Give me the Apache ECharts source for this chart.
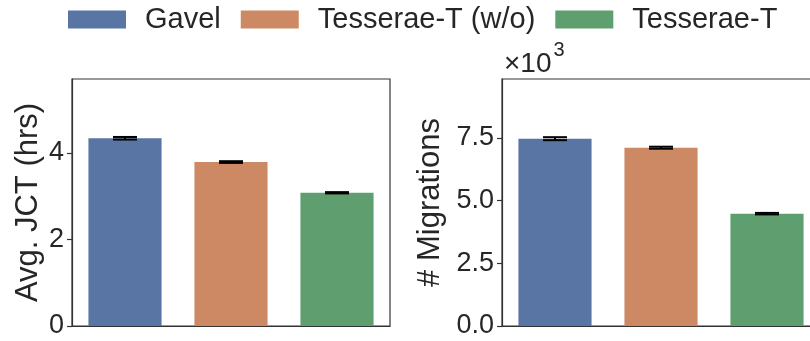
<!DOCTYPE html>
<html>
<head>
<meta charset="utf-8">
<script src="https://cdn.jsdelivr.net/npm/echarts@6/dist/echarts.min.js"></script>
<style>
  html, body { margin: 0; padding: 0; background: #fff; overflow: hidden; }
  /* the right panel runs past the edge of the figure, so the canvas is wider than the window */
  #chart { width: 830px; height: 341px; }
</style>
</head>
<body>
<div id="chart"></div>
<script>
// data
const categories = ['Gavel', 'Tesserae-T (w/o)', 'Tesserae-T']
const colors = ['#5975a4', '#cc8963', '#5f9e6e']
const jct = [4.34, 3.79, 3.08]
const jctErr = [0.03, 0.02, 0.015]
const migrations = [7470, 7110, 4480]
const migErr = [60, 40, 30]

const FONT = 'Liberation Sans, Arial, sans-serif'
const AXIS_COLOR = '#333'

function oneHot (values, i) {
  return values.map((v, j) => (j === i ? v : '-'))
}

function barSeries (values, gridIdx) {
  return categories.map((name, i) => ({
    name: name,
    type: 'bar',
    xAxisIndex: gridIdx,
    yAxisIndex: gridIdx,
    data: oneHot(values, i),
    barWidth: '69%',
    barGap: '-100%',
    itemStyle: { color: colors[i] },
    emphasis: { disabled: true }
  }))
}

function errSeries (values, errs, gridIdx) {
  return {
    type: 'custom',
    xAxisIndex: gridIdx,
    yAxisIndex: gridIdx,
    z: 10,
    data: values.map((v, i) => [i, v - errs[i], v + errs[i]]),
    renderItem (params, api) {
      let lo = api.coord([api.value(0), api.value(1)])
      let hi = api.coord([api.value(0), api.value(2)])
      let half = 12
      let style = { stroke: '#000', lineWidth: 2 }
      return {
        type: 'group',
        children: [
          { type: 'line', shape: { x1: lo[0], y1: lo[1], x2: hi[0], y2: hi[1] }, style },
          { type: 'line', shape: { x1: lo[0] - half, y1: lo[1], x2: lo[0] + half, y2: lo[1] }, style },
          { type: 'line', shape: { x1: hi[0] - half, y1: hi[1], x2: hi[0] + half, y2: hi[1] }, style }
        ]
      }
    }
  }
}

function yAxis (gridIdx, max, interval, name, nameGap, fmt) {
  return {
    type: 'value',
    gridIndex: gridIdx,
    min: 0,
    max: max,
    interval: interval,
    name: name,
    nameLocation: 'middle',
    nameRotate: 90,
    nameGap: nameGap,
    nameTextStyle: { fontSize: 31, color: '#262626', fontFamily: FONT },
    splitLine: { show: false },
    axisLine: { show: true, lineStyle: { color: AXIS_COLOR, width: 1.2 } },
    axisTick: { show: true, length: 5, lineStyle: { color: AXIS_COLOR, width: 1.2 } },
    axisLabel: {
      fontSize: 27,
      color: '#262626',
      fontFamily: FONT,
      margin: 8,
      showMaxLabel: false,
      formatter: fmt
    }
  }
}

function xAxis (gridIdx) {
  return {
    type: 'category',
    gridIndex: gridIdx,
    data: categories,
    axisLine: { show: true, lineStyle: { color: AXIS_COLOR, width: 1.2 } },
    axisTick: { show: false },
    axisLabel: { show: false }
  }
}

let chart = echarts.init(document.getElementById('chart'), null, { renderer: 'canvas' })
let option = {
  animation: false,
  legend: {
    data: categories,
    left: 63,
    top: 0,
    icon: 'rect',
    itemWidth: 58,
    itemHeight: 18,
    itemGap: 20,
    selectedMode: false,
    textStyle: {
      fontSize: 29,
      color: '#262626',
      fontFamily: FONT,
      padding: [0, 0, 0, 14]
    }
  },
  grid: [
    { left: 72, top: 79, width: 318, height: 247, show: true, borderColor: AXIS_COLOR, borderWidth: 1.2, backgroundColor: 'transparent' },
    { left: 502, top: 79, width: 318, height: 247, show: true, borderColor: AXIS_COLOR, borderWidth: 1.2, backgroundColor: 'transparent' }
  ],
  xAxis: [xAxis(0), xAxis(1)],
  yAxis: [
    yAxis(0, 5.71, 2, 'Avg. JCT (hrs)', 28, v => String(v)),
    yAxis(1, 9850, 2500, '# Migrations', 56, v => (v / 1000).toFixed(1))
  ],
  graphic: [
    {
      type: 'text',
      left: 504,
      top: 40,
      style: {
        text: '{a|×10}{b|3}',
        fontFamily: FONT,
        rich: {
          a: { fontSize: 28, fill: '#262626', fontFamily: FONT, verticalAlign: 'bottom', lineHeight: 38 },
          b: { fontSize: 20, fill: '#262626', fontFamily: FONT, verticalAlign: 'top', lineHeight: 38, padding: [0, 0, 16, 2] }
        }
      }
    }
  ],
  series: [
    ...barSeries(jct, 0),
    errSeries(jct, jctErr, 0),
    ...barSeries(migrations, 1),
    errSeries(migrations, migErr, 1)
  ]
}
chart.setOption(option)
window.onresize = function () {
  chart.resize()
}
</script>
</body>
</html>
